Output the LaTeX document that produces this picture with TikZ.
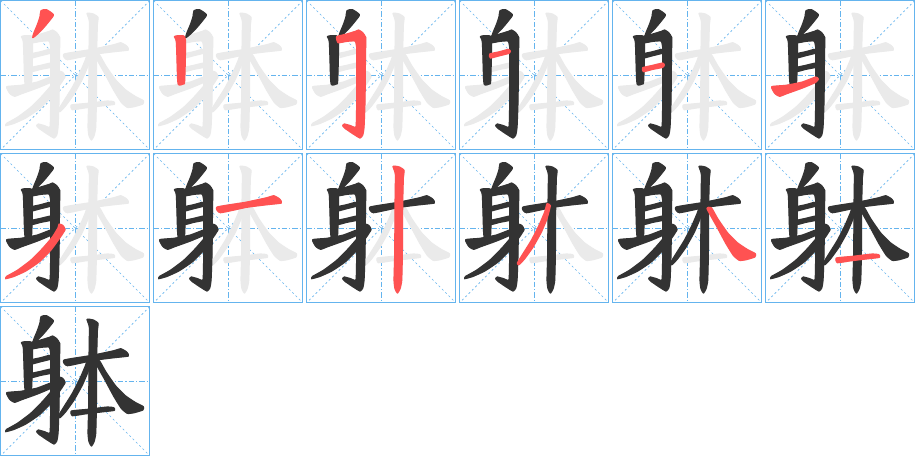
\documentclass[tikz,border=0pt]{standalone}
\usetikzlibrary{calc}
\definecolor{gridblue}{RGB}{100,180,238}
\definecolor{inkc}{RGB}{51,51,51}
\definecolor{hlc}{RGB}{255,82,82}
\definecolor{bgc}{RGB}{234,234,234}
\tikzset{
  cell/.style={draw=gridblue, line width=0.9pt},
  midline/.style={draw=gridblue, line width=0.6pt, dash pattern=on 4pt off 1.5pt on 1pt off 1.5pt},
  diagline/.style={draw=gridblue, line width=0.5pt, dash pattern=on 1.5pt off 2pt},
  strokefill/.style={fill=#1, draw=#1, line width=0.9pt, line join=round},
  s1/.style={insert path={plot[smooth cycle, tension=0.4] coordinates {(121,30) (137,27) (158,42) (148,58) (128,82) (108,102) (96,111) (100,96) (110,72) (118,48)}}},
  s2/.style={insert path={plot[smooth cycle, tension=0.4] coordinates {(62,108) (80,105) (95,116) (93,240) (88,250) (77,253) (72,240) (68,125)}}},
  s3/.style={insert path={plot[smooth cycle, tension=0.3] coordinates {(90,108) (120,100) (146,92) (156,88) (168,96) (177,110) (177,130) (176,200) (175,300) (172,380) (168,403) (160,412) (140,400) (115,383) (108,375) (113,370) (132,375) (148,378) (150,300) (150,200) (150,140) (145,121) (120,122) (94,126)}}},
  s4/.style={insert path={plot[smooth cycle, tension=0.3] coordinates {(90,160) (120,153) (146,146) (152,151) (148,158) (120,165) (92,172)}}},
  s5/.style={insert path={plot[smooth cycle, tension=0.3] coordinates {(90,201) (120,194) (150,187) (155,193) (150,200) (120,206) (92,213)}}},
  s6/.style={insert path={plot[smooth cycle, tension=0.3] coordinates {(18,258) (60,254) (110,244) (150,229) (158,235) (150,245) (110,262) (60,280) (42,287) (28,279)}}},
  s7/.style={insert path={plot[smooth cycle, tension=0.3] coordinates {(175,211) (186,215) (193,228) (175,256) (150,290) (115,325) (75,352) (40,368) (15,375) (18,368) (50,350) (90,320) (125,285) (155,250) (172,222)}}},
  s8/.style={insert path={plot[smooth cycle, tension=0.3] coordinates {(190,160) (274,146) (340,132) (360,126) (378,136) (383,148) (340,153) (278,161) (200,177)}}},
  s9/.style={insert path={plot[smooth cycle, tension=0.3] coordinates {(259,38) (278,40) (292,50) (290,72) (288,150) (287,300) (285,380) (280,405) (272,418) (265,405) (262,380) (264,300) (265,150) (266,62)}}},
  s10/.style={insert path={plot[smooth cycle, tension=0.3] coordinates {(262,150) (272,156) (262,195) (245,235) (220,280) (195,315) (178,333) (173,328) (190,300) (215,260) (238,215) (255,175)}}},
  s11/.style={insert path={plot[smooth cycle, tension=0.3] coordinates {(283,165) (296,162) (315,195) (345,238) (375,268) (405,288) (428,300) (426,310) (400,318) (380,320) (362,305) (340,270) (312,218)}}},
  s12/.style={insert path={plot[smooth cycle, tension=0.3] coordinates {(212,313) (260,308) (320,301) (339,303) (341,311) (300,316) (250,322) (215,327)}}}
}
\begin{document}
\begin{tikzpicture}[x=0.75pt,y=-0.75pt]
\useasboundingbox (0,0) rectangle (915,456);
\fill[white] (0,0) rectangle (915,456);
\foreach \k in {1,...,13} {
  \pgfmathtruncatemacro\col{mod(\k-1,6)}
  \pgfmathtruncatemacro\row{div(\k-1,6)}
  \begin{scope}[shift={({0.7+153*\col},{0.7+153*\row})}]
    \draw[diagline] (0,0) -- (149,149);
    \draw[diagline] (149,0) -- (0,149);
    \draw[midline] (74.5,0) -- (74.5,149);
    \draw[midline] (0,74.5) -- (149,74.5);
    \draw[cell] (0,0) rectangle (149,149);
    \begin{scope}[scale=1/3]
      \foreach \i in {1,...,12} {\path[strokefill=bgc, s\i];}
      \foreach \i in {1,...,12} {\ifnum\i<\k \path[strokefill=inkc, s\i];\fi}
      \ifnum\k<13 \path[strokefill=hlc, s\k];\fi
    \end{scope}
  \end{scope}
}
\end{tikzpicture}
\end{document}
